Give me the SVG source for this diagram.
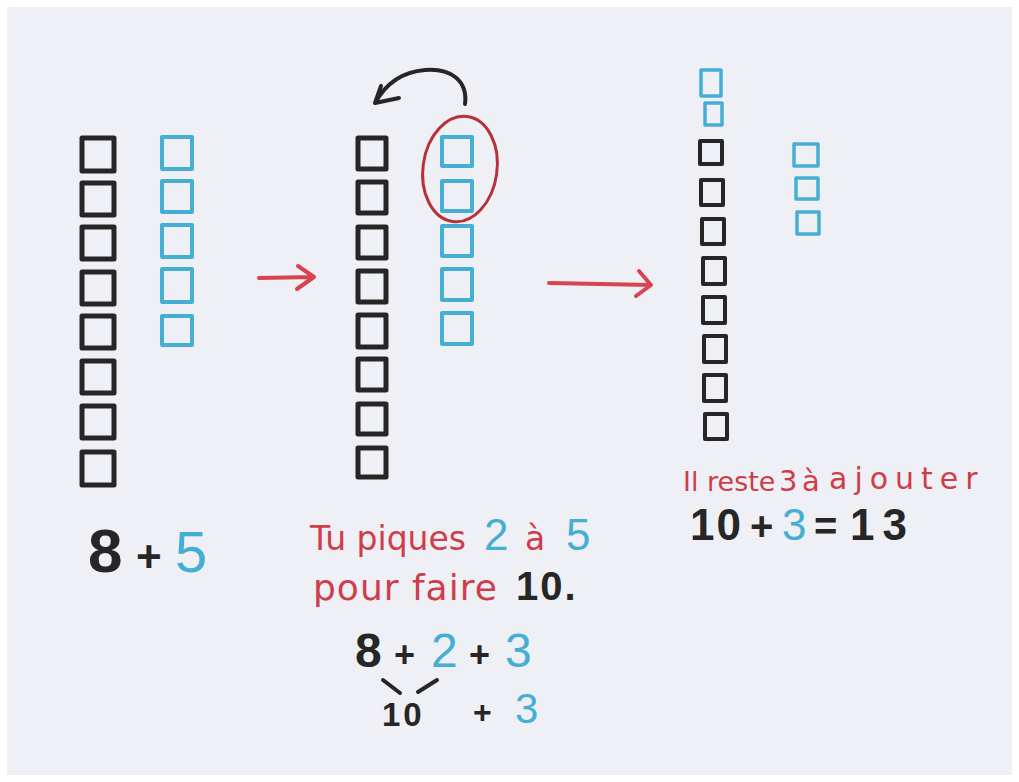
<svg xmlns="http://www.w3.org/2000/svg" width="1019" height="782" viewBox="0 0 1019 782">
<style>
.k{fill:none;stroke:#262626;stroke-width:5;stroke-linejoin:round}
.b{fill:none;stroke:#45aed3;stroke-width:4;stroke-linejoin:round}
.ks{fill:none;stroke:#262626;stroke-width:4;stroke-linejoin:round}
.bs{fill:none;stroke:#45aed3;stroke-width:3.5;stroke-linejoin:round}
.arr{fill:none;stroke:#d8434f;stroke-width:4;stroke-linecap:round;stroke-linejoin:round}
.t{font-family:"Liberation Sans","Open Sans",sans-serif}
.w{font-family:"DejaVu Sans","Liberation Sans",sans-serif}
.red{fill:#cf3d4a}
.blk{fill:#262626;font-weight:bold}
.blu{fill:#45aed3}
</style>
<rect width="1019" height="782" fill="#ffffff"/>
<rect x="7" y="7" width="1005" height="768" fill="#eef0f5"/>

<g id="panel1">
  <rect class="k" x="82" y="138" width="32" height="33"/>
  <rect class="k" x="82" y="183" width="32" height="32"/>
  <rect class="k" x="82" y="227" width="32" height="32"/>
  <rect class="k" x="82" y="272" width="32" height="32"/>
  <rect class="k" x="82" y="316" width="32" height="32"/>
  <rect class="k" x="82" y="361" width="32" height="32"/>
  <rect class="k" x="82" y="406" width="32" height="32"/>
  <rect class="k" x="82" y="452" width="32" height="33"/>
  <rect class="b" x="162" y="137" width="30" height="32"/>
  <rect class="b" x="162" y="181" width="30" height="31"/>
  <rect class="b" x="162" y="225" width="30" height="32"/>
  <rect class="b" x="162" y="269" width="30" height="33"/>
  <rect class="b" x="162" y="316" width="30" height="29"/>
  <text class="t" font-size="62" y="572"><tspan class="blk" x="88">8</tspan><tspan class="blk" x="136" font-size="44">+</tspan><tspan class="blu" x="175" font-size="58">5</tspan></text>
</g>

<g id="panel2">
  <rect class="k" x="358" y="138" width="28" height="31"/>
  <rect class="k" x="358" y="182" width="28" height="31"/>
  <rect class="k" x="358" y="227" width="28" height="31"/>
  <rect class="k" x="358" y="271" width="28" height="31"/>
  <rect class="k" x="358" y="315" width="28" height="32"/>
  <rect class="k" x="358" y="359" width="28" height="31"/>
  <rect class="k" x="358" y="404" width="28" height="30"/>
  <rect class="k" x="358" y="448" width="28" height="29"/>
  <rect class="b" x="442" y="137" width="30" height="29"/>
  <rect class="b" x="442" y="181" width="30" height="30"/>
  <rect class="b" x="442" y="226" width="30" height="30"/>
  <rect class="b" x="442" y="269" width="30" height="31"/>
  <rect class="b" x="442" y="313" width="30" height="31"/>
  <ellipse cx="460" cy="169" rx="37" ry="53" transform="rotate(8 460 169)" fill="none" stroke="#b8303a" stroke-width="3"/>
  <text class="w red" font-size="33" x="310" y="550">Tu piques</text>
  <text class="t blu" font-size="44" x="484" y="550">2</text>
  <text class="w red" font-size="33" x="525" y="550">à</text>
  <text class="t blu" font-size="44" x="566" y="550">5</text>
  <text class="w red" font-size="36" x="313" y="600" letter-spacing="1">pour faire</text>
  <text class="t blk" font-size="40" x="516" y="600" letter-spacing="2">10.</text>
  <text class="t" font-size="48" y="667"><tspan class="blk" x="355">8</tspan><tspan class="blk" x="394" font-size="36">+</tspan><tspan class="blu" x="431">2</tspan><tspan class="blk" x="469" font-size="36">+</tspan><tspan class="blu" x="505">3</tspan></text>
  <path d="M383 680 L400 693 M418 692 L437 680" class="ks" stroke-linecap="round"/>
  <text class="t blk" font-size="33" x="382" y="726" letter-spacing="3">10</text>
  <text class="t blk" font-size="32" x="473" y="723">+</text>
  <text class="t blu" font-size="42" x="515" y="723">3</text>
</g>

<g id="panel3">
  <rect class="bs" x="701" y="70" width="20" height="26"/>
  <rect class="bs" x="705" y="103" width="17" height="22"/>
  <rect class="ks" x="700" y="141" width="22" height="23"/>
  <rect class="ks" x="701" y="180" width="22" height="25"/>
  <rect class="ks" x="702" y="219" width="22" height="25"/>
  <rect class="ks" x="703" y="258" width="22" height="26"/>
  <rect class="ks" x="703" y="297" width="22" height="26"/>
  <rect class="ks" x="704" y="336" width="22" height="26"/>
  <rect class="ks" x="704" y="375" width="22" height="26"/>
  <rect class="ks" x="705" y="414" width="22" height="25"/>
  <rect class="bs" x="794" y="144" width="24" height="22"/>
  <rect class="bs" x="796" y="178" width="22" height="21"/>
  <rect class="bs" x="797" y="212" width="22" height="22"/>
  <text class="w red" font-size="27" x="683" y="491">Il reste</text>
  <text class="w red" font-size="29" x="779" y="491">3</text>
  <text class="w red" font-size="29" x="802" y="491">à</text>
  <text class="w red" font-size="30" x="829" y="489" letter-spacing="7">ajouter</text>
  <text class="t blk" font-size="44" x="690" y="540" letter-spacing="2">10</text>
  <text class="t blk" font-size="40" x="750" y="540">+</text>
  <text class="t blu" font-size="44" x="782" y="540">3</text>
  <text class="t blk" font-size="40" x="814" y="540">=</text>
  <text class="t blk" font-size="44" x="850" y="540" letter-spacing="8">13</text>
</g>

<g id="connectors">
  <path class="arr" d="M259 278 L314 277 M298 266 L314 277 L297 289"/>
  <path class="arr" d="M549 283 L651 285 M639 271 L651 285 L636 296"/>
  <path d="M465 104 C468 80 450 68 425 70 C400 72 385 85 375 103 M375 103 L381 86 M375 103 L399 98" fill="none" stroke="#262626" stroke-width="4" stroke-linecap="round" stroke-linejoin="round"/>
</g>
</svg>
